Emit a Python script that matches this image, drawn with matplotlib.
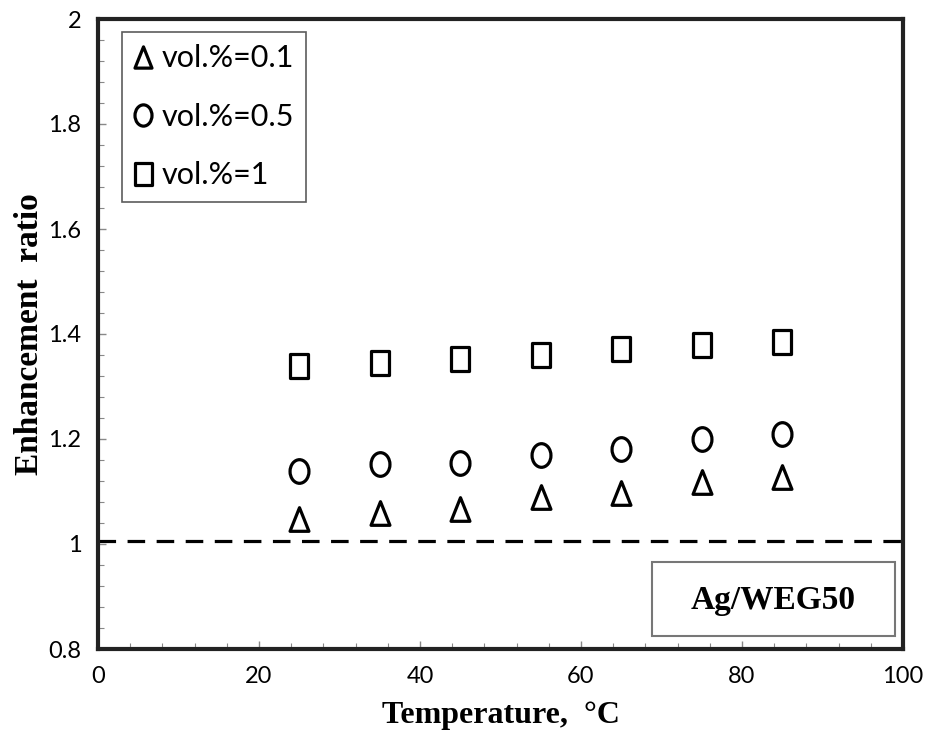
import matplotlib
matplotlib.use("Agg")
import matplotlib.pyplot as plt
import numpy as np
from matplotlib.path import Path
from matplotlib.patches import Rectangle
from matplotlib.ticker import MultipleLocator, FuncFormatter

temperature = [25, 35, 45, 55, 65, 75, 85]
ratio_01 = [1.047, 1.060, 1.067, 1.090, 1.097, 1.118, 1.128]
ratio_05 = [1.139, 1.152, 1.155, 1.170, 1.181, 1.200, 1.210]
ratio_1 = [1.340, 1.344, 1.352, 1.360, 1.371, 1.379, 1.385]
labels = ["vol.%=0.1", "vol.%=0.5", "vol.%=1"]
reference_line = 1.005

# vertically stretched markers (reference image is slightly stretched)
sy = 1.25
sq = Path([(-1, -sy), (1, -sy), (1, sy), (-1, sy), (-1, -sy)],
          [Path.MOVETO, Path.LINETO, Path.LINETO, Path.LINETO, Path.CLOSEPOLY])
circ0 = Path.unit_circle()
circ = Path(circ0.vertices * np.array([1, sy]), circ0.codes)
tri = Path([(0, sy), (-1, -sy), (1, -sy), (0, sy)],
           [Path.MOVETO, Path.LINETO, Path.LINETO, Path.CLOSEPOLY])

fig = plt.figure(figsize=(9.25, 7.37), dpi=100)
ax = fig.add_axes([98/925, 88/737, 805/925, 630/737])

mk = dict(linestyle="none", markerfacecolor="white", markeredgecolor="black",
          markeredgewidth=2.3, markersize=17)
ax.axhline(reference_line, color="black", lw=2.3, linestyle=(0, (5.5, 3.6)), zorder=1)
h1, = ax.plot(temperature, ratio_01, marker=tri, label=labels[0], **mk)
h2, = ax.plot(temperature, ratio_05, marker=circ, label=labels[1], **mk)
h3, = ax.plot(temperature, ratio_1, marker=sq, label=labels[2], **mk)

ax.set_xlim(0, 100)
ax.set_ylim(0.8, 2.0)
ax.xaxis.set_major_locator(MultipleLocator(20))
ax.xaxis.set_minor_locator(MultipleLocator(4))
ax.yaxis.set_major_locator(MultipleLocator(0.2))
ax.yaxis.set_minor_locator(MultipleLocator(0.04))
ax.yaxis.set_major_formatter(FuncFormatter(lambda v, p: str(int(round(v))) if abs(v-round(v)) < 1e-9 else f"{v:.1f}"))
ax.tick_params(which="both", direction="in", color="#888888")
ax.tick_params(which="major", length=6, width=1)
ax.tick_params(which="minor", length=4, width=0.8)
ax.tick_params(axis="x", which="major", labelsize=17, pad=12)
ax.tick_params(axis="y", which="major", labelsize=17, pad=12)
for lab in ax.get_xticklabels() + ax.get_yticklabels():
    lab.set_family("Lato")
for s in ax.spines.values():
    s.set_linewidth(3)
    s.set_color("#222222")

ax.set_xlabel("Temperature,  °C", family="Liberation Serif", fontweight="bold",
              fontsize=23, labelpad=10)
ax.set_ylabel("Enhancement  ratio", family="Liberation Serif", fontweight="bold",
              fontsize=24, labelpad=2)

leg = ax.legend(handles=[h1, h2, h3], loc="upper left",
                bbox_to_anchor=(24/805, 1 - 13/630), fancybox=False,
                frameon=True, prop={"family": "Lato", "size": 22},
                handlelength=0.6, handletextpad=0.3, labelspacing=1.0,
                borderpad=0.4, markerscale=0.9, borderaxespad=0)
leg.get_frame().set_edgecolor("#333333")
leg.get_frame().set_linewidth(1.2)

box = Rectangle((652/925, (737-636)/737), (895-652)/925, (636-562)/737,
                transform=fig.transFigure, facecolor="white",
                edgecolor="#777777", lw=1.5, zorder=5)
fig.add_artist(box)
fig.text((652+895)/2/925, (737-600)/737, "Ag/WEG50", family="Liberation Serif",
         fontweight="bold", fontsize=24, ha="center", va="center", zorder=6)

fig.savefig("out.png", dpi=100)
